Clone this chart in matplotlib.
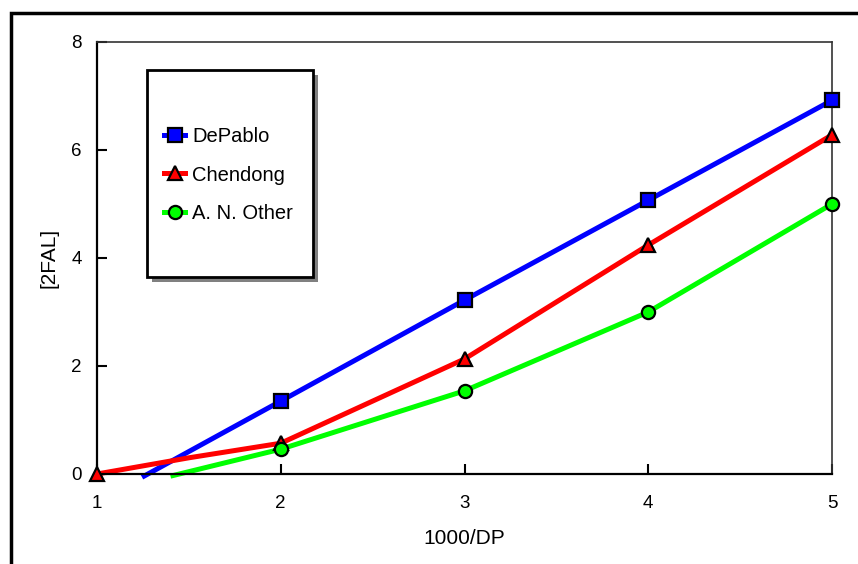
import matplotlib.pyplot as plt
from matplotlib.patches import Rectangle
from matplotlib.lines import Line2D

plt.rcParams['font.family'] = ['Liberation Sans', 'DejaVu Sans']

# measured points (markers)
x_pts = [1, 2, 3, 4, 5]
depablo = [None, 1.35, 3.22, 5.07, 6.92]
chendong = [0.0, 0.57, 2.13, 4.24, 6.28]
other = [None, 0.46, 1.54, 3.0, 5.0]

# drawn curves (start where each line meets the x axis)
depablo_line_x = [1.245, 2, 3, 4, 5]
depablo_line_y = [-0.06, 1.35, 3.22, 5.07, 6.92]
chendong_line_x = [1, 1.5, 2, 3, 4, 5]
chendong_line_y = [0.0, 0.30, 0.57, 2.13, 4.24, 6.28]
other_line_x = [1.40, 2, 3, 4, 5]
other_line_y = [-0.04, 0.46, 1.54, 3.0, 5.0]

names = ["DePablo", "Chendong", "A. N. Other"]
colors = ["#0000ff", "#ff0000", "#00ff00"]
markers = ["s", "^", "o"]
msizes = [10, 10, 9.5]

fig = plt.figure(figsize=(8.58, 5.64), dpi=100)
ax = fig.add_axes([97/858, 90/564, 735/858, 432/564])

lines = [(depablo_line_x, depablo_line_y, depablo),
         (chendong_line_x, chendong_line_y, chendong),
         (other_line_x, other_line_y, other)]
handles = []
for (lx, ly, pts), name, c, m, ms in zip(lines, names, colors, markers, msizes):
    ax.plot(lx, ly, color=c, lw=3.6, solid_capstyle='butt', clip_on=False, zorder=2)
    px = [x for x, y in zip(x_pts, pts) if y is not None]
    py = [y for y in pts if y is not None]
    ax.plot(px, py, ls='none', marker=m, ms=ms,
            mfc=c, mec='black', mew=1.6, clip_on=False, zorder=3)
    handles.append(Line2D([], [], color=c, lw=3.6, marker=m, ms=ms,
                          mfc=c, mec='black', mew=1.6))

ax.set_xlim(1, 5)
ax.set_ylim(0, 8)
ax.set_xticks([1, 2, 3, 4, 5])
ax.set_yticks([0, 2, 4, 6, 8])
ax.tick_params(direction='in', length=7, width=1.5, labelsize=13.5, colors='black')
ax.tick_params(axis='x', pad=15)
ax.tick_params(axis='y', pad=11)
for s in ['left', 'bottom']:
    ax.spines[s].set_linewidth(1.6)
for s in ['top', 'right']:
    ax.spines[s].set_linewidth(1.2)
    ax.spines[s].set_color('#333333')
ax.set_xlabel("1000/DP", fontsize=15, labelpad=12)
ax.set_ylabel("[2FAL]", fontsize=15, labelpad=9)

# legend box with shadow
bx0, by0, bw, bh = 147/858, (564-277)/564, 166/858, 207/564
fig.add_artist(Rectangle((bx0 + 5/858, by0 - 5/564), bw, bh, transform=fig.transFigure,
                         facecolor='#808080', edgecolor='none', zorder=4))
fig.add_artist(Rectangle((bx0, by0), bw, bh, transform=fig.transFigure,
                         facecolor='white', edgecolor='black', lw=2, zorder=5))
leg = fig.legend(handles, names, loc='center left', bbox_to_anchor=(154/858, (564-175)/564),
                 frameon=False, fontsize=14.5, handlelength=1.05, handletextpad=0.35,
                 labelspacing=0.97, borderpad=0)
leg.set_zorder(6)

# outer chart border
fig.add_artist(Rectangle((11/858, -0.1), 1.1, (564-13)/564 + 0.1, transform=fig.transFigure,
                         facecolor='none', edgecolor='black', lw=2.5, zorder=1))

fig.savefig("out.png", dpi=100)
